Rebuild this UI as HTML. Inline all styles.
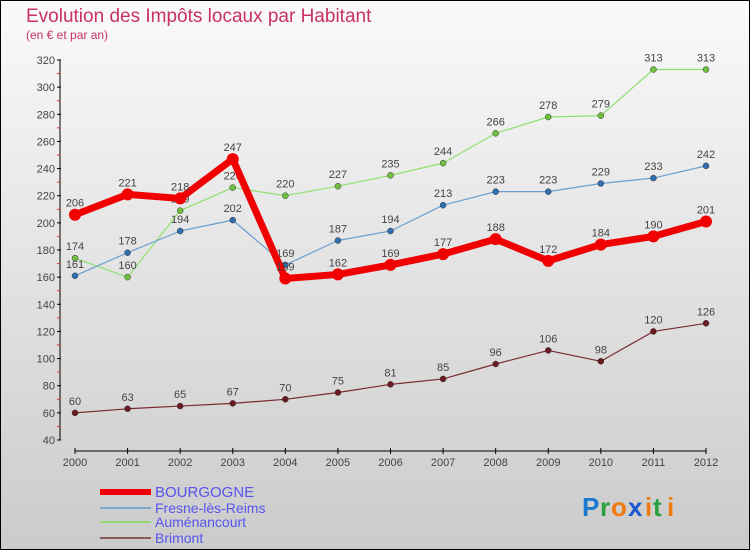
<!DOCTYPE html>
<html><head><meta charset="utf-8"><style>
html,body{margin:0;padding:0}
body{width:750px;height:550px;overflow:hidden;font-family:"Liberation Sans",sans-serif}
</style></head><body>
<svg id="chart" width="750" height="550" xmlns="http://www.w3.org/2000/svg">
<defs><linearGradient id="bg" x1="0" y1="0" x2="0" y2="1"><stop offset="0" stop-color="#fafafa"/><stop offset="1" stop-color="#cbcbcb"/></linearGradient></defs>
<rect x="0.5" y="0.5" width="749" height="549" fill="url(#bg)" stroke="#000"/>
<text x="26" y="22" font-size="19" fill="#c8325f">Evolution des Impôts locaux par Habitant</text>
<text x="26" y="39" font-size="12" fill="#c8325f">(en € et par an)</text>
<g id="axes"></g>
<g id="series"></g>
<g id="legend"></g>
<g font-size="26" font-weight="bold" font-family="Liberation Sans,sans-serif">
<text x="582" y="516" fill="#1a7ad0">P</text><text x="600" y="516" fill="#2aa040">r</text><text x="611" y="516" fill="#f07a10">o</text><text x="628" y="516" fill="#1a5ad0">x</text><text x="645" y="516" fill="#f07a10">i</text><text x="653" y="516" fill="#2aa040">t</text><text x="667" y="516" fill="#f07a10">i</text>
</g>
</svg>
<script>
const years=["2000","2001","2002","2003","2004","2005","2006","2007","2008","2009","2010","2011","2012"];
const yTicks=[40,60,80,100,120,140,160,180,200,220,240,260,280,300,320];
const bourgogne=[206,221,218,247,159,162,169,177,188,172,184,190,201];
const fresne=[161,178,194,202,169,187,194,213,223,223,229,233,242];
const aumenancourt=[174,160,209,226,220,227,235,244,266,278,279,313,313];
const brimont=[60,63,65,67,70,75,81,85,96,106,98,120,126];
const NS="http://www.w3.org/2000/svg";
function X(i){return 75+i*(706-75)/12;}
function Y(v){return 440-(v-40)*380/280;}
function mk(tag,attrs,parent){const e=document.createElementNS(NS,tag);for(const k in attrs)e.setAttribute(k,attrs[k]);parent.appendChild(e);return e;}
const axes=document.getElementById('axes');
let e=mk('line',{x1:60,y1:60,x2:60,y2:440,stroke:'#000'},axes);


yTicks.forEach((v,k)=>{
 mk('line',{x1:57,y1:Y(v),x2:61,y2:Y(v),stroke:'#000'},axes);
 if(k<yTicks.length-1) mk('line',{x1:57,y1:Y(v+10),x2:60,y2:Y(v+10),stroke:'#e03030'},axes);
 const t=mk('text',{x:55,y:Y(v)+4,'font-size':11,'text-anchor':'end',fill:'#444'},axes);t.textContent=v;
 
 
});
e=mk('line',{x1:75,y1:451,x2:706,y2:451,stroke:'#000'},axes);


years.forEach((y,i)=>{
 mk('line',{x1:X(i),y1:448,x2:X(i),y2:454,stroke:'#000'},axes);
 const t=mk('text',{x:X(i),y:466,'font-size':11,'text-anchor':'middle',fill:'#444'},axes);t.textContent=y;
 
 
});
const S=document.getElementById('series');
const defs=[
 {name:'brimont',d:brimont,c:'#7a2a30',dot:'#6a1a20',w:1.2,r:3},
 {name:'aumenancourt',d:aumenancourt,c:'#90e070',dot:'#70c040',w:1.2,r:3},
 {name:'fresne',d:fresne,c:'#6aa0d0',dot:'#3070b0',w:1.2,r:3},
 {name:'bourgogne',d:bourgogne,c:'#f00000',dot:'#f00000',w:7,r:6}
];
defs.forEach(s=>{
 const g=mk('g',{},S);
 
 
 const p=mk('polyline',{points:s.d.map((v,i)=>X(i)+','+Y(v)).join(' '),fill:'none',stroke:s.c,'stroke-width':s.w,'stroke-linejoin':'round'},g);
 
 
 s.d.forEach((v,i)=>{
  const c=mk('circle',{cx:X(i),cy:Y(v),r:s.r,fill:s.dot,stroke:s.r>3?'none':'#333','stroke-width':0.5},g);
  
  
  const t=mk('text',{x:X(i),y:Y(v)-8,'font-size':11,'text-anchor':'middle',fill:'#444'},g);t.textContent=v;
  
  
 });
});
const L=document.getElementById('legend');
const leg=[['BOURGOGNE','#f00000',6,492,15],['Fresne-lès-Reims','#7aaad0',2,508,14],['Auménancourt','#90d870',2,522,14],['Brimont','#8a5a5a',2,538,14]];
leg.forEach(l=>{
 const g=mk('g',{},L);
 
 
 mk('line',{x1:100,y1:l[3],x2:151,y2:l[3],stroke:l[1],'stroke-width':l[2]},g);
 const t=mk('text',{x:155,y:l[3]+5,'font-size':l[4],fill:'#5555ee'},g);t.textContent=l[0];
});
</script>
</body></html>
